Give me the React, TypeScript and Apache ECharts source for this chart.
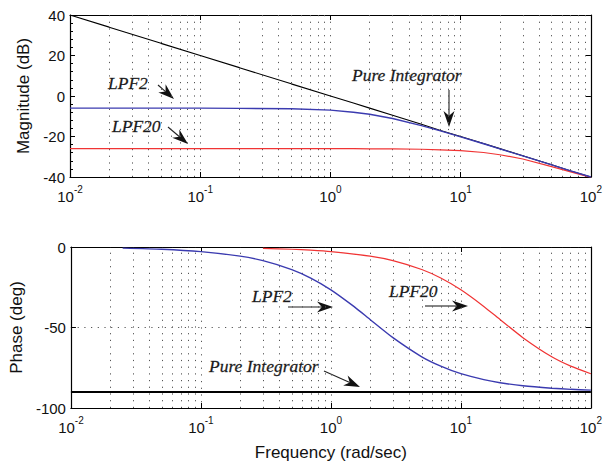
import React, { useEffect, useRef } from "react";
import * as echarts from "echarts";

// ---------- data ----------
const FREQ_MAG = [0.01, 0.02, 0.05, 0.1, 0.2, 0.5, 1, 1.5, 2, 3, 5, 7, 10, 15, 20, 30, 50, 70, 100];
const MAG_INTEGRATOR = [40, 34, 26, 20, 14, 6, 0, -3.5, -6, -9.5, -14, -17, -20, -23.5, -26, -29.5, -34, -37, -40];
const MAG_LPF2 = [-6, -6, -6, -6, -6.1, -6.3, -7, -8, -9, -11.1, -14.6, -17.2, -20.2, -23.6, -26.1, -29.6, -34, -37, -40];
const MAG_LPF20 = [-26, -26, -26, -26, -26, -26, -26, -26, -26.1, -26.1, -26.3, -26.6, -27, -27.9, -29, -31.1, -34.9, -37.5, -40.2];

const FREQ_PH_LPF2 = [0.025, 0.05, 0.1, 0.2, 0.3, 0.5, 0.7, 1, 1.5, 2, 3, 5, 7, 10, 15, 20, 30, 50, 70, 100];
const PH_LPF2 = [-0.7, -1.4, -2.9, -5.7, -8.5, -14, -19.3, -26.6, -36.9, -45, -56.3, -68.2, -74, -78.7, -82.4, -84.3, -86.2, -87.7, -88.4, -88.9];
const FREQ_PH_LPF20 = [0.3, 0.5, 0.7, 1, 2, 3, 5, 7, 10, 15, 20, 30, 50, 70, 100];
const PH_LPF20 = [-0.9, -1.4, -2, -2.9, -5.7, -8.5, -14, -19.3, -26.6, -36.9, -45, -56.3, -68.2, -74, -78.7];
const FREQ_PH_INT = [0.01, 100];
const PH_INT = [-90, -90];

const DECADES = [0.01, 0.1, 1, 10];
const MINOR_MULTS = [2, 3, 4, 5, 6, 7, 8, 9];
const MAG_TICKS = { min: -40, max: 40, interval: 20 };
const PH_TICKS = { min: -100, max: 0, interval: 50 };

const BLUE = "#3b3bb0";
const RED = "#f03434";
const FONT = "Liberation Sans";
const SERIF = "Liberation Serif";

function pairs(xs: number[], ys: number[]) {
  return xs.map((x, i) => [x, ys[i]]);
}

function arrow(x1: number, y1: number, x2: number, y2: number, head = 16, half = 5.5) {
  const dx = x2 - x1, dy = y2 - y1;
  const L = Math.hypot(dx, dy);
  const ux = dx / L, uy = dy / L;
  const bx = x2 - ux * head, by = y2 - uy * head;
  const px = -uy, py = ux;
  const nx = x2 - ux * head * 0.7, ny = y2 - uy * head * 0.7;
  return [
    { type: "line", shape: { x1, y1, x2: nx, y2: ny }, style: { stroke: "#222", lineWidth: 1.1 } },
    {
      type: "polygon",
      shape: { points: [[x2, y2], [bx + px * half, by + py * half], [nx, ny], [bx - px * half, by - py * half]] },
      style: { fill: "#111" },
    },
  ];
}

function label(text: string, x: number, y: number) {
  return {
    type: "text",
    x,
    y,
    style: {
      text,
      fontFamily: SERIF,
      fontStyle: "italic",
      fontSize: 17.5,
      fill: "#1a1a1a",
      stroke: "#555",
      lineWidth: 0.3,
      verticalAlign: "middle",
    },
  };
}

export default function App() {
  const ref = useRef<HTMLDivElement>(null);

  useEffect(() => {
    document.body.style.margin = "0";
    const chart = echarts.init(ref.current!, null, { renderer: "svg" });

    const minorLines = DECADES.flatMap((d) => MINOR_MULTS.map((m) => ({ xAxis: +(d * m).toPrecision(3) })));
    const gridMarkLine = {
      silent: true,
      symbol: "none",
      label: { show: false },
      lineStyle: { type: [1.2, 5.5], color: "#555", width: 1 },
      data: minorLines,
      z: 1,
    };

    const dotted = { show: true, lineStyle: { type: [1.2, 5.5], color: "#555", width: 1 } };
    const logLabel = {
      fontFamily: FONT,
      color: "#111",
      margin: 7,
      formatter: (v: number) => `{b|10}{s|${Math.round(Math.log10(v))}}`,
      rich: {
        b: { fontFamily: FONT, fontSize: 15, color: "#111", padding: [5, 0, 0, 0], verticalAlign: "bottom" },
        s: { fontFamily: FONT, fontSize: 10, color: "#111", verticalAlign: "top" },
      },
    };
    const axisLine = { show: true, onZero: false, lineStyle: { color: "#000", width: 1.2 } };
    const tick = { show: true, inside: true, length: 5, lineStyle: { color: "#000" } };

    const xCommon = { type: "log", logBase: 10, min: 0.01, max: 100, axisLine, axisTick: tick };
    const nameStyle = { fontFamily: FONT, fontSize: 17, color: "#111" };

    const option: any = {
      animation: false,
      backgroundColor: "#fff",
      grid: [
        { left: 70, top: 15, width: 522, height: 162 },
        { left: 70, top: 247, width: 522, height: 161 },
      ],
      xAxis: [
        { ...xCommon, gridIndex: 0, position: "bottom", axisLabel: logLabel, splitLine: dotted },
        { ...xCommon, gridIndex: 0, position: "top", axisLabel: { show: false }, splitLine: { show: false } },
        {
          ...xCommon,
          gridIndex: 1,
          position: "bottom",
          axisLabel: logLabel,
          splitLine: dotted,
          name: "Frequency (rad/sec)",
          nameLocation: "middle",
          nameGap: 36,
          nameTextStyle: nameStyle,
        },
        { ...xCommon, gridIndex: 1, position: "top", axisLabel: { show: false }, splitLine: { show: false } },
      ],
      yAxis: [
        {
          type: "value",
          gridIndex: 0,
          position: "left",
          ...MAG_TICKS,
          axisLine,
          axisTick: tick,
          minorTick: { show: true, splitNumber: 5, length: 3, lineStyle: { color: "#000" } },
          splitLine: { show: false },
          axisLabel: { fontFamily: FONT, fontSize: 15, color: "#111", margin: 5 },
          name: "Magnitude (dB)",
          nameLocation: "middle",
          nameGap: 37,
          nameTextStyle: nameStyle,
        },
        {
          type: "value",
          gridIndex: 0,
          position: "right",
          ...MAG_TICKS,
          axisLine,
          axisTick: tick,
          splitLine: { show: false },
          axisLabel: { show: false },
        },
        {
          type: "value",
          gridIndex: 1,
          position: "left",
          ...PH_TICKS,
          axisLine,
          axisTick: tick,
          splitLine: dotted,
          axisLabel: { fontFamily: FONT, fontSize: 15, color: "#111", margin: 5 },
          name: "Phase (deg)",
          nameLocation: "middle",
          nameGap: 37,
          nameTextStyle: nameStyle,
        },
        {
          type: "value",
          gridIndex: 1,
          position: "right",
          ...PH_TICKS,
          axisLine,
          axisTick: tick,
          splitLine: { show: false },
          axisLabel: { show: false },
        },
      ],
      series: [
        {
          type: "line",
          name: "Pure Integrator",
          xAxisIndex: 0,
          yAxisIndex: 0,
          data: pairs(FREQ_MAG, MAG_INTEGRATOR),
          showSymbol: false,
          lineStyle: { color: "#000", width: 1.1 },
          markLine: gridMarkLine,
          z: 3,
        },
        {
          type: "line",
          name: "LPF2",
          xAxisIndex: 0,
          yAxisIndex: 0,
          data: pairs(FREQ_MAG, MAG_LPF2),
          showSymbol: false,
          lineStyle: { color: BLUE, width: 1.4 },
          z: 4,
        },
        {
          type: "line",
          name: "LPF20",
          xAxisIndex: 0,
          yAxisIndex: 0,
          data: pairs(FREQ_MAG, MAG_LPF20),
          showSymbol: false,
          lineStyle: { color: RED, width: 1.2 },
          z: 3,
        },
        {
          type: "line",
          name: "Pure Integrator",
          xAxisIndex: 2,
          yAxisIndex: 2,
          data: pairs(FREQ_PH_INT, PH_INT),
          showSymbol: false,
          lineStyle: { color: "#000", width: 2 },
          markLine: gridMarkLine,
          z: 3,
        },
        {
          type: "line",
          name: "LPF2",
          xAxisIndex: 2,
          yAxisIndex: 2,
          data: pairs(FREQ_PH_LPF2, PH_LPF2),
          showSymbol: false,
          smooth: 0.2,
          lineStyle: { color: BLUE, width: 1.4 },
          z: 3,
        },
        {
          type: "line",
          name: "LPF20",
          xAxisIndex: 2,
          yAxisIndex: 2,
          data: pairs(FREQ_PH_LPF20, PH_LPF20),
          showSymbol: false,
          smooth: 0.2,
          lineStyle: { color: RED, width: 1.2 },
          z: 3,
        },
      ],
      graphic: [
        label("LPF2", 108, 83),
        ...arrow(158, 85, 174, 99),
        label("LPF20", 112, 126),
        ...arrow(168, 127, 188, 144),
        label("Pure Integrator", 352, 75),
        ...arrow(449, 90, 449, 127),
        label("LPF2", 252, 296),
        ...arrow(288, 307, 333, 307),
        label("LPF20", 389, 291),
        ...arrow(425, 306, 468, 306),
        label("Pure Integrator", 209, 366),
        ...arrow(324, 371, 360, 387),
      ],
    };

    chart.setOption(option);
    return () => chart.dispose();
  }, []);

  return (
    <div
      ref={ref}
      style={{ position: "fixed", left: 0, top: 0, width: 605, height: 463, background: "#fff" }}
    />
  );
}
